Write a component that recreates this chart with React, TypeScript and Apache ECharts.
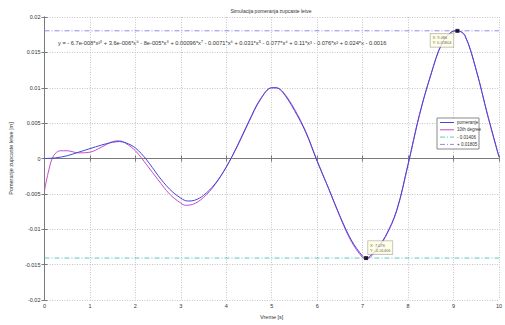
import React, { useEffect, useRef } from "react";
import * as echarts from "echarts";

const TITLE = "Simulacija pomeranja zupcaste letve";
const X_NAME = "Vreme [s]";
const Y_NAME = "Pomeranje zupcaste letve [m]";
const EQUATION =
  "y = - 6.7e-008*x¹⁰ + 3.6e-006*x⁹ - 8e-005*x⁸ + 0.00096*x⁷ - 0.0071*x⁶ + 0.031*x⁵ - 0.077*x⁴ + 0.11*x³ - 0.076*x² + 0.024*x - 0.0016";

// "pomeranje" (measured displacement)
const pomX = [0, 0.25, 0.5, 0.75, 1.0, 1.25, 1.5, 1.65, 1.8, 2.0, 2.25, 2.5, 2.75, 3.0, 3.15, 3.3, 3.5, 3.75, 4.0, 4.25, 4.5, 4.75, 5.0, 5.1, 5.25, 5.5, 5.75, 6.0, 6.25, 6.5, 6.75, 7.0, 7.08, 7.25, 7.5, 7.75, 8.0, 8.25, 8.5, 8.75, 9.0, 9.086, 9.25, 9.5, 9.75, 10];
const pomY = [0, 0.0001, 0.0004, 0.0009, 0.0014, 0.0019, 0.0023, 0.0024, 0.0022, 0.0015, -0.0002, -0.0024, -0.0043, -0.0056, -0.006, -0.0059, -0.0052, -0.0036, -0.0012, 0.0019, 0.0053, 0.0084, 0.0100, 0.0100, 0.0093, 0.0068, 0.0037, -0.0004, -0.0042, -0.0081, -0.0115, -0.0138, -0.01406, -0.0132, -0.0110, -0.0073, -0.0008, 0.0062, 0.0118, 0.0163, 0.0180, 0.01804, 0.0174, 0.0125, 0.0062, 0.0003];

// "10th degree" polynomial fit
const fitX = [0, 0.1, 0.2, 0.35, 0.5, 0.75, 1.0, 1.25, 1.5, 1.65, 1.8, 2.0, 2.25, 2.5, 2.75, 3.0, 3.1, 3.25, 3.5, 3.75, 4.0, 4.25, 4.5, 4.75, 5.0, 5.1, 5.25, 5.5, 5.75, 6.0, 6.25, 6.5, 6.75, 7.0, 7.08, 7.25, 7.5, 7.75, 8.0, 8.25, 8.5, 8.75, 9.0, 9.086, 9.25, 9.5, 9.75, 10];
const fitY = [-0.0045, -0.0015, 0.0004, 0.0011, 0.0011, 0.0008, 0.0009, 0.0016, 0.0024, 0.0025, 0.0021, 0.0011, -0.0009, -0.003, -0.005, -0.0063, -0.0066, -0.0065, -0.0055, -0.0037, -0.0012, 0.0018, 0.0052, 0.0083, 0.0100, 0.0100, 0.0094, 0.007, 0.0038, -0.0003, -0.0042, -0.0082, -0.0117, -0.014, -0.0142, -0.0134, -0.0111, -0.0074, -0.0009, 0.0061, 0.0118, 0.0163, 0.0180, 0.01805, 0.0174, 0.0125, 0.0061, 0.0002];

const MIN_LEVEL = -0.01406;
const MAX_LEVEL = 0.01805;
const tipPoints = [
  [9.086, 0.01804],
  [7.076, -0.01406],
];
const tipTexts = ["X: 9.086\nY: 0.01804", "X: 7.076\nY: -0.01406"];

const legendNames = ["pomeranje", "10th degree", "- 0.01406", "+ 0.01805"];
const seriesColors = ["#4646d8", "#c34ec3", "#5cc8c8", "#8c8ce6"];

const FONT = "Liberation Sans, Arial, sans-serif";
const DASH_DOT = [5, 2, 1, 2];

export default function App() {
  const ref = useRef<HTMLDivElement>(null);
  useEffect(() => {
    if (!ref.current) return;
    const chart = echarts.init(ref.current, undefined, { renderer: "svg" });
    const zip = (xs: number[], ys: number[]) => xs.map((x, i) => [x, ys[i]]);
    const axisLine = { show: true, lineStyle: { color: "#7a7a7a", width: 1 } };
    const tick = { show: true, inside: true, length: 3, lineStyle: { color: "#7a7a7a" } };

    // hand-drawn legend box (MATLAB style)
    const LX = 437, LY = 118, LW = 42, LH = 31;
    const legendEls: any[] = [
      {
        type: "rect",
        shape: { x: LX, y: LY, width: LW, height: LH },
        style: { fill: "#ffffff", stroke: "#8a8a8a", lineWidth: 1 },
        z: 10,
      },
    ];
    legendNames.forEach((nm, i) => {
      const cy = LY + 4.5 + i * 7.3;
      legendEls.push({
        type: "line",
        shape: { x1: LX + 3, y1: cy, x2: LX + 17, y2: cy },
        style: {
          stroke: seriesColors[i],
          lineWidth: 1,
          lineDash: i >= 2 ? DASH_DOT : null,
        },
        z: 11,
      });
      legendEls.push({
        type: "text",
        x: LX + 20,
        y: cy,
        style: {
          text: nm,
          fontSize: 4.5,
          fontFamily: FONT,
          fill: "#333",
          align: "left",
          verticalAlign: "middle",
        },
        z: 11,
      });
    });

    chart.setOption({
      animation: false,
      backgroundColor: "#ffffff",
      textStyle: { fontFamily: FONT },
      grid: { left: 41, right: 3, top: 17, bottom: 15, containLabel: false },
      xAxis: [
        {
          type: "value",
          min: 0,
          max: 10,
          interval: 1,
          name: X_NAME,
          nameLocation: "middle",
          nameGap: 11,
          nameTextStyle: { fontSize: 5.5, color: "#333" },
          axisLine,
          axisTick: tick,
          axisLabel: { fontSize: 5.5, color: "#333333", margin: 3 },
          splitLine: { show: true, lineStyle: { color: "#c4c4c4", type: [1, 1.5], width: 1 } },
        },
        {
          type: "value",
          position: "top",
          min: 0,
          max: 10,
          interval: 1,
          axisLine,
          axisTick: tick,
          axisLabel: { show: false },
          splitLine: { show: false },
        },
      ],
      yAxis: [
        {
          type: "value",
          min: -0.02,
          max: 0.02,
          interval: 0.005,
          name: Y_NAME,
          nameLocation: "middle",
          nameGap: 22,
          nameTextStyle: { fontSize: 5.5, color: "#333" },
          axisLine,
          axisTick: tick,
          axisLabel: {
            fontSize: 5.5,
            color: "#333333",
            margin: 4,
            formatter: (v: number) => String(+v.toFixed(3)),
          },
          splitLine: { show: true, lineStyle: { color: "#c4c4c4", type: [1, 1.5], width: 1 } },
        },
        {
          type: "value",
          position: "right",
          min: -0.02,
          max: 0.02,
          interval: 0.005,
          axisLine,
          axisTick: tick,
          axisLabel: { show: false },
          splitLine: { show: false },
        },
      ],
      graphic: [
        {
          type: "text",
          x: 271,
          y: 11,
          style: {
            text: TITLE,
            fontSize: 5,
            fontFamily: FONT,
            fill: "#333",
            align: "center",
            verticalAlign: "middle",
          },
        },
        {
          type: "text",
          x: 58,
          y: 43,
          style: {
            text: EQUATION,
            fontSize: 5.7,
            fontFamily: FONT,
            fill: "#333",
            align: "left",
            verticalAlign: "middle",
          },
        },
        ...legendEls,
      ],
      series: [
        {
          name: legendNames[0],
          type: "line",
          data: zip(pomX, pomY),
          smooth: 0.35,
          symbol: "none",
          lineStyle: { color: seriesColors[0], width: 1 },
          itemStyle: { color: seriesColors[0] },
          z: 3,
        },
        {
          name: legendNames[1],
          type: "line",
          data: zip(fitX, fitY),
          smooth: 0.35,
          symbol: "none",
          lineStyle: { color: seriesColors[1], width: 1 },
          itemStyle: { color: seriesColors[1] },
          z: 2,
        },
        {
          name: legendNames[2],
          type: "line",
          data: [
            [0, MIN_LEVEL],
            [10, MIN_LEVEL],
          ],
          symbol: "none",
          lineStyle: { color: seriesColors[2], width: 1, type: DASH_DOT },
          z: 1,
        },
        {
          name: legendNames[3],
          type: "line",
          data: [
            [0, MAX_LEVEL],
            [10, MAX_LEVEL],
          ],
          symbol: "none",
          lineStyle: { color: seriesColors[3], width: 1, type: DASH_DOT },
          z: 1,
        },
        {
          name: "tips",
          type: "scatter",
          symbol: "rect",
          symbolSize: 4,
          itemStyle: { color: "#000" },
          z: 5,
          data: tipPoints.map((p, i) => ({
            value: p,
            label: {
              show: true,
              formatter: tipTexts[i],
              position: i === 0 ? [-25, 5] : [4, -15],
              align: "left",
              verticalAlign: "top",
              fontSize: 4,
              lineHeight: 5,
              color: "#333",
              fontFamily: FONT,
              backgroundColor: "#ffffe1",
              borderColor: "#9a9a9a",
              borderWidth: 0.6,
              padding: [1.5, 2, 1.5, 2],
            },
          })),
        },
      ],
    });
    return () => chart.dispose();
  }, []);
  return (
    <div
      ref={ref}
      style={{ position: "fixed", left: 0, top: 0, width: 505, height: 325, background: "#fff" }}
    />
  );
}
